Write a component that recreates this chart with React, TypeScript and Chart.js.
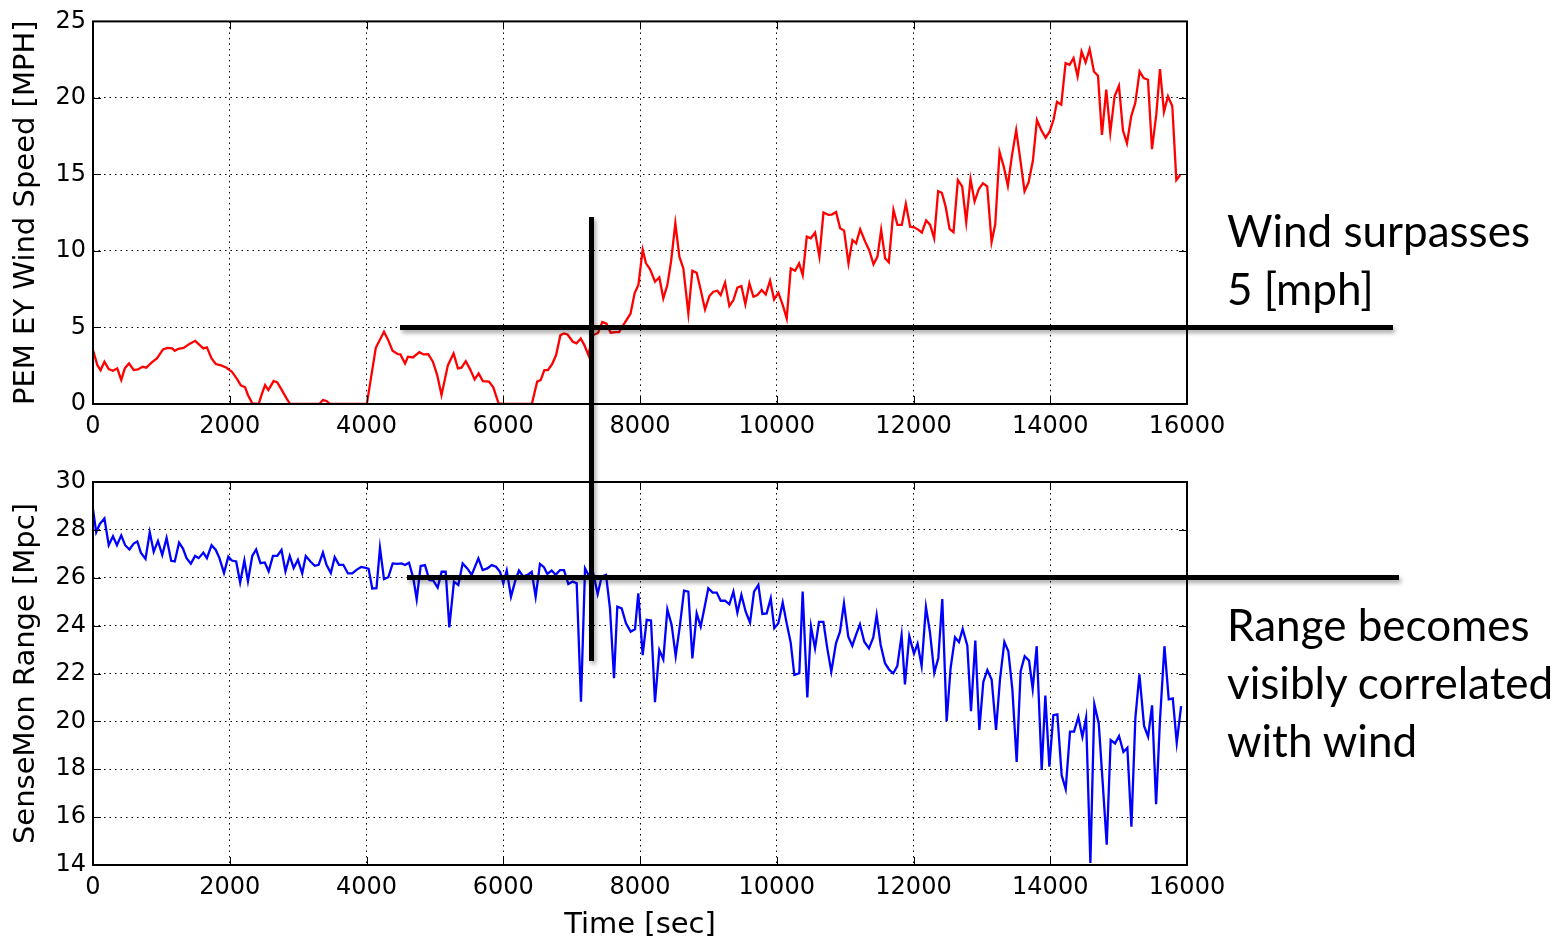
import React, { useEffect, useRef } from "react";
import { Chart, registerables } from "chart.js";

Chart.register(...registerables);

// ---------------- data ----------------
const windTime = [
  0, 63, 110, 167, 230, 292, 355, 413, 465, 527, 595, 658, 726, 778, 856, 935, 1024, 1091, 1159, 1196,
  1248, 1326, 1405, 1494, 1561, 1614, 1666, 1734, 1796, 1875, 1953, 2031, 2110, 2162, 2225, 2266, 2329, 2423, 2465, 2517,
  2564, 2642, 2695, 2762, 2830, 2883, 3102, 3311, 3363, 3415, 3467, 3729, 4005, 4136, 4256, 4313, 4381, 4460, 4496, 4564,
  4606, 4679, 4773, 4836, 4903, 4971, 5034, 5097, 5191, 5274, 5337, 5389, 5452, 5514, 5582, 5640, 5702, 5791, 5854, 5932,
  6000, 6209, 6418, 6496, 6548, 6601, 6653, 6715, 6773, 6836, 6888, 6940, 7018, 7071, 7133, 7186, 7246, 7306, 7386, 7449,
  7510, 7571, 7645, 7694, 7769, 7861, 7922, 7976, 8039, 8088, 8146, 8220, 8283, 8341, 8400, 8454, 8517, 8576, 8634, 8707,
  8766, 8829, 8888, 8951, 9015, 9073, 9132, 9180, 9244, 9307, 9366, 9424, 9483, 9541, 9600, 9659, 9717, 9780, 9839, 9902,
  9961, 10024, 10088, 10146, 10205, 10268, 10327, 10380, 10439, 10498, 10561, 10624, 10683, 10756, 10805, 10868, 10927, 10985, 11049, 11107,
  11161, 11220, 11293, 11351, 11415, 11473, 11527, 11585, 11639, 11707, 11766, 11829, 11888, 11951, 12010, 12073, 12122, 12185, 12244, 12302,
  12360, 12415, 12470, 12527, 12585, 12649, 12712, 12771, 12834, 12893, 12956, 13015, 13078, 13142, 13195, 13259, 13317, 13380, 13439, 13502,
  13561, 13624, 13683, 13746, 13805, 13868, 13932, 13990, 14049, 14098, 14161, 14224, 14283, 14341, 14400, 14458, 14517, 14576, 14639, 14698,
  14756, 14819, 14878, 14941, 15005, 15063, 15122, 15185, 15244, 15307, 15366, 15429, 15488, 15551, 15605, 15663, 15722, 15785, 15844, 15902,
];
const windMph = [
  3.52, 2.54, 2.2, 2.76, 2.28, 2.17, 2.33, 1.57, 2.33, 2.65, 2.22, 2.26, 2.43, 2.37, 2.7, 2.98, 3.57, 3.67, 3.63, 3.48,
  3.61, 3.67, 3.91, 4.13, 3.85, 3.63, 3.7, 2.98, 2.61, 2.52, 2.37, 2.11, 1.61, 1.22, 1.09, 0.59, 0.04, 0, 0.59, 1.24,
  0.91, 1.5, 1.41, 0.91, 0.37, 0, 0, 0, 0.26, 0.2, 0, 0, 0, 3.67, 4.72, 4.22, 3.48, 3.26, 3.24, 2.65,
  3.09, 3.04, 3.39, 3.24, 3.26, 2.76, 1.89, 0.59, 2.54, 3.3, 2.33, 2.37, 2.8, 2.28, 1.61, 2.0, 1.5, 1.46, 1.09, 0.04,
  0, 0, 0, 1.46, 1.57, 2.22, 2.22, 2.61, 3.2, 4.5, 4.61, 4.54, 4.07, 3.96, 4.28, 3.85, 3.19, 4.49, 4.64, 5.36,
  5.25, 4.66, 4.7, 4.7, 5.25, 5.9, 7.25, 7.77, 10.07, 9.19, 8.82, 7.99, 8.28, 6.9, 7.77, 9.3, 11.81, 9.63, 8.86, 5.92,
  8.71, 8.58, 7.45, 6.18, 7.05, 7.34, 7.4, 7.12, 7.93, 6.4, 6.79, 7.6, 7.71, 6.51, 7.88, 7.01, 7.12, 7.45, 7.16, 8.06,
  6.83, 7.27, 6.46, 5.59, 8.86, 8.71, 9.19, 8.43, 10.94, 10.83, 11.2, 9.63, 12.51, 12.36, 12.38, 12.55, 11.48, 11.33, 9.19, 10.72,
  10.5, 11.42, 10.61, 10.07, 9.13, 9.63, 11.38, 9.52, 9.26, 12.69, 11.7, 11.7, 13.08, 11.59, 11.55, 11.38, 11.2, 11.99, 11.7, 10.83,
  13.9, 13.8, 12.9, 11.45, 11.23, 14.63, 14.22, 11.88, 14.7, 13.23, 14.05, 14.42, 14.22, 10.58, 11.73, 16.47, 15.56, 14.26, 16.21, 17.9,
  16.0, 13.9, 14.48, 15.89, 18.55, 17.9, 17.4, 17.79, 18.59, 19.74, 19.57, 22.27, 22.16, 22.6, 21.41, 23.03, 22.32, 23.18, 21.73, 21.45,
  17.58, 20.54, 17.73, 20.11, 20.8, 17.88, 17.03, 18.81, 19.68, 21.73, 21.3, 21.19, 16.65, 18.92, 21.88, 19.09, 20.11, 19.46, 14.63, 14.98,
];

const rangeTime = [
  0, 47, 99, 167, 230, 292, 350, 413, 470, 533, 595, 648, 700, 768, 830, 888, 950, 1013, 1076, 1144,
  1196, 1259, 1316, 1368, 1431, 1494, 1546, 1614, 1666, 1734, 1796, 1849, 1916, 1979, 2031, 2094, 2152, 2214, 2266, 2329,
  2386, 2449, 2512, 2569, 2632, 2695, 2757, 2815, 2877, 2935, 2997, 3060, 3112, 3180, 3243, 3300, 3363, 3415, 3478, 3535,
  3598, 3661, 3729, 3791, 3859, 3922, 3990, 4031, 4084, 4146, 4197, 4256, 4319, 4383, 4451, 4514, 4563, 4622, 4685, 4734,
  4792, 4855, 4919, 4977, 5041, 5099, 5158, 5211, 5279, 5343, 5406, 5474, 5538, 5636, 5699, 5767, 5831, 5894, 5953, 6001,
  6051, 6113, 6172, 6230, 6293, 6357, 6416, 6474, 6537, 6596, 6644, 6708, 6767, 6830, 6888, 6952, 7015, 7074, 7137, 7196,
  7258, 7317, 7381, 7440, 7503, 7561, 7620, 7668, 7732, 7795, 7863, 7927, 7975, 8039, 8098, 8161, 8219, 8283, 8341, 8400,
  8463, 8522, 8585, 8644, 8707, 8766, 8829, 8888, 8951, 8999, 9063, 9122, 9180, 9244, 9307, 9366, 9424, 9483, 9546, 9609,
  9668, 9731, 9790, 9853, 9912, 9964, 10023, 10087, 10145, 10204, 10257, 10330, 10379, 10447, 10501, 10560, 10618, 10682, 10739, 10798,
  10866, 10925, 10983, 11046, 11105, 11159, 11217, 11280, 11349, 11412, 11461, 11520, 11583, 11646, 11704, 11763, 11826, 11875, 11938, 12007,
  12060, 12119, 12182, 12241, 12304, 12363, 12421, 12485, 12543, 12607, 12665, 12719, 12787, 12841, 12904, 12963, 13021, 13080, 13143, 13207,
  13265, 13329, 13387, 13446, 13509, 13567, 13626, 13690, 13743, 13802, 13875, 13928, 13987, 14045, 14104, 14167, 14226, 14289, 14348, 14411,
  14470, 14524, 14587, 14645, 14709, 14767, 14826, 14884, 14948, 15006, 15070, 15128, 15187, 15245, 15304, 15372, 15431, 15489, 15548, 15606,
  15670, 15733, 15792, 15850, 15914,
];
const rangeMpc = [
  28.86, 27.9, 28.24, 28.48, 27.36, 27.73, 27.36, 27.77, 27.36, 27.18, 27.43, 27.52, 27.05, 26.79, 27.9, 27.09, 27.54, 26.95, 27.66, 26.71,
  26.68, 27.47, 27.22, 26.82, 26.59, 26.91, 26.82, 27.05, 26.82, 27.36, 27.16, 26.82, 26.2, 26.88, 26.72, 26.68, 25.8, 26.72, 25.86, 26.91,
  27.18, 26.61, 26.64, 26.27, 26.91, 26.91, 27.16, 26.27, 26.91, 26.41, 26.75, 26.18, 26.91, 26.68, 26.5, 26.54, 27.05, 26.54, 26.2, 26.86,
  26.54, 26.54, 26.18, 26.18, 26.34, 26.45, 26.41, 26.37, 25.55, 25.56, 27.25, 25.94, 26.02, 26.6, 26.58, 26.6, 26.53, 26.63, 25.98, 25.1,
  26.49, 26.53, 25.91, 25.88, 25.59, 26.25, 26.25, 23.93, 25.84, 25.7, 26.6, 26.39, 26.12, 26.81, 26.32, 26.39, 26.53, 26.46, 26.25, 25.77,
  26.3, 25.21, 25.84, 26.3, 26.05, 26.12, 26.25, 25.21, 26.58, 26.44, 26.16, 26.3, 26.12, 26.32, 26.32, 25.74, 25.84, 25.77, 20.82, 26.39,
  26.05, 26.18, 25.32, 26.05, 26.12, 24.72, 21.8, 24.79, 24.72, 24.1, 23.75, 23.85, 25.35, 22.77, 24.24, 24.21, 20.8, 22.98, 22.59, 24.68,
  24.03, 22.73, 24.03, 25.46, 25.42, 22.63, 24.51, 23.96, 24.86, 25.56, 25.38, 25.38, 25.04, 25.04, 24.89, 25.42, 24.54, 25.28, 24.58, 24.12,
  25.42, 25.7, 24.49, 24.51, 25.14, 23.89, 24.1, 24.96, 24.1, 23.29, 21.94, 22.01, 25.42, 21.0, 23.96, 23.05, 24.16, 24.16, 23.05, 22.08,
  23.26, 23.75, 24.93, 23.54, 23.16, 23.61, 24.05, 23.33, 23.05, 23.51, 24.44, 23.19, 22.43, 22.15, 22.01, 22.31, 23.6, 21.54, 23.56, 22.83,
  23.25, 22.31, 24.78, 23.72, 22.03, 22.65, 25.11, 20.01, 22.24, 23.51, 23.31, 23.86, 23.17, 20.43, 23.38, 19.64, 21.65, 22.14, 21.75, 19.64,
  21.75, 23.32, 22.93, 21.33, 18.31, 22.1, 22.72, 22.54, 21.36, 23.14, 17.97, 21.08, 18.11, 20.26, 20.29, 17.75, 17.17, 19.57, 19.57, 20.18,
  19.35, 20.15, 14.08, 20.71, 19.92, 17.44, 14.85, 19.22, 19.08, 19.39, 18.72, 18.9, 15.6, 20.15, 21.96, 19.81, 19.36, 20.67, 16.54, 20.11,
  23.14, 20.92, 20.96, 19.11, 20.64,
];

const timeTicks = [0, 2000, 4000, 6000, 8000, 10000, 12000, 14000, 16000];
const windTicks = [0, 5, 10, 15, 20, 25];
const rangeTicks = [14, 16, 18, 20, 22, 24, 26, 28, 30];

const windNote = ["Wind surpasses", "5 [mph]"];
const rangeNote = ["Range becomes", "visibly correlated", "with wind"];

// ---------------- helpers ----------------
const AXIS_FONT = "'DejaVu Sans', sans-serif";

const framePlugin = {
  id: "mplFrame",
  afterDraw(chart: any) {
    const { ctx, chartArea: a, scales } = chart;
    const xs = scales.x;
    const ys = scales.y;
    ctx.save();
    ctx.setLineDash([]);
    ctx.strokeStyle = "#000";
    ctx.lineWidth = 1;
    ctx.beginPath();
    xs.ticks.forEach((t: any) => {
      const p = Math.round(xs.getPixelForValue(t.value)) + 0.5;
      ctx.moveTo(p, a.bottom);
      ctx.lineTo(p, a.bottom - 8);
      ctx.moveTo(p, a.top);
      ctx.lineTo(p, a.top + 8);
    });
    ys.ticks.forEach((t: any) => {
      const p = Math.round(ys.getPixelForValue(t.value)) + 0.5;
      ctx.moveTo(a.left, p);
      ctx.lineTo(a.left + 8, p);
      ctx.moveTo(a.right, p);
      ctx.lineTo(a.right - 8, p);
    });
    ctx.stroke();
    ctx.lineWidth = 2;
    ctx.strokeRect(a.left, a.top, a.right - a.left, a.bottom - a.top);
    ctx.restore();
  },
};

function makeConfig(opts: {
  times: number[];
  values: number[];
  color: string;
  yTicks: number[];
  yTitle: string;
  padTop: number;
  xHeight: number;
  xTitle?: string;
}) {
  const { times, values, color, yTicks, yTitle, padTop, xHeight, xTitle } = opts;
  return {
    type: "line" as const,
    data: {
      datasets: [
        {
          data: times.map((t, i) => ({ x: t, y: values[i] })),
          borderColor: color,
          borderWidth: 2.3,
          pointRadius: 0,
          fill: false,
          tension: 0,
        },
      ],
    },
    options: {
      animation: false,
      responsive: false,
      maintainAspectRatio: false,
      events: [],
      layout: { padding: { left: 0, right: 381, top: padTop, bottom: 0 } },
      plugins: { legend: { display: false }, tooltip: { enabled: false } },
      scales: {
        x: {
          type: "linear",
          min: timeTicks[0],
          max: timeTicks[timeTicks.length - 1],
          afterBuildTicks: (s: any) => {
            s.ticks = timeTicks.map((v) => ({ value: v }));
          },
          afterFit: (s: any) => {
            s.height = xHeight;
          },
          ticks: {
            color: "#000",
            font: { family: AXIS_FONT, size: 24 },
            padding: 8,
            maxRotation: 0,
            autoSkip: false,
            callback: (v: any) => String(v),
          },
          grid: { color: "#000", lineWidth: 1, drawTicks: false },
          border: { display: false, dash: [1.5, 4] },
          title: xTitle
            ? {
                display: true,
                text: xTitle,
                color: "#000",
                font: { family: AXIS_FONT, size: 29, lineHeight: 1 },
                padding: { top: 0, bottom: -3 },
              }
            : { display: false },
        },
        y: {
          min: yTicks[0],
          max: yTicks[yTicks.length - 1],
          afterBuildTicks: (s: any) => {
            s.ticks = yTicks.map((v) => ({ value: v }));
          },
          afterFit: (s: any) => {
            s.width = 93;
          },
          ticks: {
            color: "#000",
            font: { family: AXIS_FONT, size: 24 },
            padding: 7,
            autoSkip: false,
            callback: (v: any) => String(v),
          },
          grid: { color: "#000", lineWidth: 1, drawTicks: false },
          border: { display: false, dash: [1.5, 4] },
          title: {
            display: true,
            text: yTitle,
            color: "#000",
            font: { family: AXIS_FONT, size: 29, lineHeight: 1 },
            padding: { top: 12, bottom: 0 },
          },
        },
      },
    },
    plugins: [framePlugin],
  };
}

function ChartCanvas(props: { top: number; height: number; config: any }) {
  const ref = useRef<HTMLCanvasElement | null>(null);
  useEffect(() => {
    if (!ref.current) return;
    const chart = new Chart(ref.current, props.config);
    return () => chart.destroy();
  }, []);
  return (
    <canvas
      ref={ref}
      width={1568}
      height={props.height}
      style={{ position: "absolute", left: 0, top: props.top, width: 1568, height: props.height }}
    />
  );
}

const lineShadow = "2px 3px 4px rgba(0,0,0,0.35)";

export default function App() {
  const topConfig = makeConfig({
    times: windTime,
    values: windMph,
    color: "#ff0000",
    yTicks: windTicks,
    yTitle: "PEM EY Wind Speed [MPH]",
    padTop: 20,
    xHeight: 46,
  });
  const bottomConfig = makeConfig({
    times: rangeTime,
    values: rangeMpc,
    color: "#0000ff",
    yTicks: rangeTicks,
    yTitle: "SenseMon Range [Mpc]",
    padTop: 32,
    xHeight: 72,
    xTitle: "Time [sec]",
  });
  const noteStyle: React.CSSProperties = {
    position: "absolute",
    left: 1227,
    fontFamily: "Lato, 'Open Sans', sans-serif",
    fontSize: 44,
    lineHeight: "58px",
    color: "#000",
    whiteSpace: "nowrap",
  };
  return (
    <div style={{ position: "absolute", left: 0, top: 0, width: 1568, height: 937, background: "#fff", overflow: "hidden" }}>
      <ChartCanvas top={0} height={450} config={topConfig} />
      <ChartCanvas top={450} height={487} config={bottomConfig} />
      <div style={{ position: "absolute", left: 400, top: 325, width: 993, height: 5, background: "#000", boxShadow: lineShadow }} />
      <div style={{ position: "absolute", left: 407, top: 575, width: 992, height: 5, background: "#000", boxShadow: lineShadow }} />
      <div style={{ position: "absolute", left: 589, top: 217, width: 5, height: 444, background: "#000", boxShadow: lineShadow }} />
      <div style={{ ...noteStyle, top: 201 }}>
        {windNote.map((s) => (
          <div key={s}>{s}</div>
        ))}
      </div>
      <div style={{ ...noteStyle, top: 595 }}>
        {rangeNote.map((s) => (
          <div key={s}>{s}</div>
        ))}
      </div>
    </div>
  );
}
